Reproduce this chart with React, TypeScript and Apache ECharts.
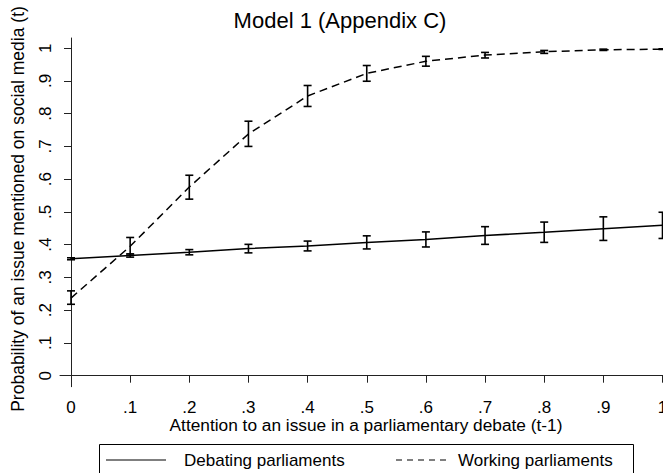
import React, { useEffect, useRef } from "react";
import * as echarts from "echarts";

const xs = [0, 0.1, 0.2, 0.3, 0.4, 0.5, 0.6, 0.7, 0.8, 0.9, 1];
const tickValues = [0, 0.1, 0.2, 0.3, 0.4, 0.5, 0.6, 0.7, 0.8, 0.9, 1];
const tickLabels = ["0", ".1", ".2", ".3", ".4", ".5", ".6", ".7", ".8", ".9", "1"];

const debating = [0.357, 0.367, 0.377, 0.388, 0.396, 0.407, 0.416, 0.428, 0.438, 0.449, 0.459];
const debatingLo = [0.354, 0.362, 0.369, 0.375, 0.381, 0.387, 0.393, 0.401, 0.407, 0.413, 0.419];
const debatingHi = [0.36, 0.372, 0.385, 0.401, 0.411, 0.427, 0.439, 0.455, 0.469, 0.485, 0.499];

const working = [0.237, 0.395, 0.576, 0.738, 0.854, 0.923, 0.96, 0.979, 0.989, 0.995, 0.997];
const workingLo = [0.218, 0.368, 0.539, 0.7, 0.822, 0.899, 0.945, 0.97, 0.984, 0.993, 0.996];
const workingHi = [0.259, 0.422, 0.612, 0.777, 0.886, 0.947, 0.975, 0.987, 0.993, 0.997, 0.998];

const titleText = "Model 1 (Appendix C)";
const xTitle = "Attention to an issue in a parliamentary debate (t-1)";
const yTitle = "Probability of an issue mentioned on social media (t)";
const legendNames = ["Debating parliaments", "Working parliaments"];

const FONT = "'Liberation Sans', Arial, Helvetica, sans-serif";

function fmt(v: number): string {
  const i = tickValues.findIndex((t) => Math.abs(t - v) < 1e-6);
  return i >= 0 ? tickLabels[i] : "";
}

function errRender(params: any, api: any) {
  const x = api.value(0);
  const lo = api.value(1);
  const hi = api.value(2);
  const p1 = api.coord([x, lo]);
  const p2 = api.coord([x, hi]);
  const w = 4;
  const st = { stroke: "#000", lineWidth: 1.6 };
  return {
    type: "group",
    children: [
      { type: "line", shape: { x1: p1[0], y1: p1[1], x2: p2[0], y2: p2[1] }, style: st },
      { type: "line", shape: { x1: p1[0] - w, y1: p1[1], x2: p1[0] + w, y2: p1[1] }, style: st },
      { type: "line", shape: { x1: p2[0] - w, y1: p2[1], x2: p2[0] + w, y2: p2[1] }, style: st },
    ],
  };
}

export default function App() {
  const ref = useRef<HTMLDivElement>(null);
  useEffect(() => {
    if (!ref.current) return;
    const chart = echarts.init(ref.current, null, { renderer: "svg" });
    const axisLine = { show: true, lineStyle: { color: "#222", width: 1 } };
    chart.setOption({
      animation: false,
      backgroundColor: "#fff",
      grid: { left: 60, top: 38, width: 613.5, height: 348.7, containLabel: false },
      xAxis: {
        type: "value",
        min: -0.0186,
        max: 1.0186,
        axisLine,
        splitLine: { show: false },
        axisTick: { show: true, customValues: tickValues, length: 7, lineStyle: { color: "#222" } },
        axisLabel: {
          customValues: tickValues,
          formatter: fmt,
          margin: 12,
          color: "#000",
          fontSize: 17,
          fontFamily: FONT,
        },
      },
      yAxis: {
        type: "value",
        min: -0.0336,
        max: 1.031,
        axisLine,
        splitLine: { show: false },
        axisTick: { show: true, customValues: tickValues, length: 7, lineStyle: { color: "#222" } },
        axisLabel: {
          customValues: tickValues,
          formatter: fmt,
          rotate: 90,
          margin: 6,
          color: "#000",
          fontSize: 17,
          fontFamily: FONT,
        },
      },
      series: [
        {
          name: legendNames[0],
          type: "line",
          data: xs.map((x, i) => [x, debating[i]]),
          symbol: "none",
          lineStyle: { color: "#000", width: 1.5, type: "solid" },
          z: 3,
        },
        {
          name: legendNames[1],
          type: "line",
          data: xs.map((x, i) => [x, working[i]]),
          symbol: "none",
          lineStyle: { color: "#000", width: 1.5, type: [8, 5] },
          z: 3,
        },
        {
          type: "custom",
          renderItem: errRender,
          data: xs.map((x, i) => [x, debatingLo[i], debatingHi[i]]),
          encode: { x: 0, y: [1, 2] },
          z: 4,
        },
        {
          type: "custom",
          renderItem: errRender,
          data: xs.map((x, i) => [x, workingLo[i], workingHi[i]]),
          encode: { x: 0, y: [1, 2] },
          z: 4,
        },
      ],
      graphic: [
        {
          type: "text",
          x: 340,
          y: 20,
          style: { text: titleText, fontSize: 22, fontFamily: FONT, fill: "#000", align: "center", verticalAlign: "middle" },
        },
        {
          type: "text",
          x: 366,
          y: 425,
          style: { text: xTitle, fontSize: 17.3, fontFamily: FONT, fill: "#000", align: "center", verticalAlign: "middle" },
        },
        {
          type: "text",
          x: 18,
          y: 209,
          rotation: Math.PI / 2,
          style: { text: yTitle, fontSize: 17.5, fontFamily: FONT, fill: "#000", align: "center", verticalAlign: "middle" },
        },
        {
          type: "rect",
          shape: { x: 99.5, y: 444.5, width: 534, height: 40 },
          style: { fill: "none", stroke: "#000", lineWidth: 1 },
        },
        {
          type: "line",
          shape: { x1: 106, y1: 460, x2: 166, y2: 460 },
          style: { stroke: "#000", lineWidth: 1.2 },
        },
        {
          type: "text",
          x: 184,
          y: 460,
          style: { text: legendNames[0], fontSize: 17, fontFamily: FONT, fill: "#000", align: "left", verticalAlign: "middle" },
        },
        {
          type: "line",
          shape: { x1: 396, y1: 460, x2: 448, y2: 460 },
          style: { stroke: "#000", lineWidth: 1.2, lineDash: [6, 5] },
        },
        {
          type: "text",
          x: 458,
          y: 460,
          style: { text: legendNames[1], fontSize: 17, fontFamily: FONT, fill: "#000", align: "left", verticalAlign: "middle" },
        },
      ],
    });
    return () => chart.dispose();
  }, []);
  return (
    <div style={{ position: "absolute", left: 0, top: 0, width: 663, height: 473, overflow: "hidden" }}>
      <div ref={ref} style={{ width: 690, height: 473 }} />
    </div>
  );
}
